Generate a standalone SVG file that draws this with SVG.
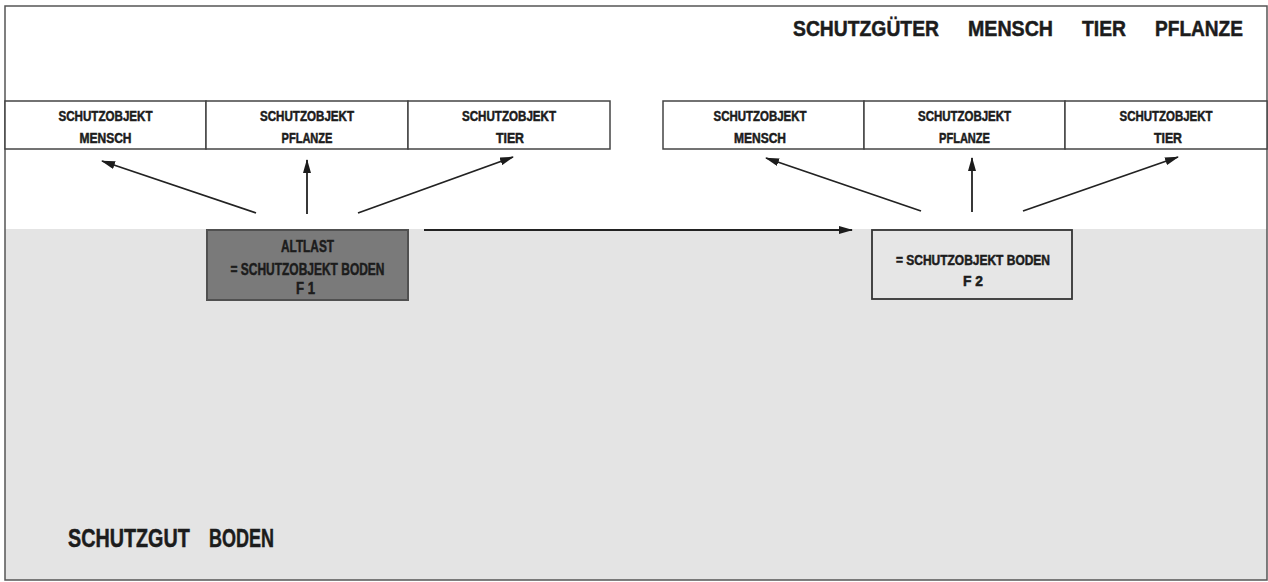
<svg xmlns="http://www.w3.org/2000/svg" width="1268" height="582" viewBox="0 0 1268 582">
<defs>
<style>
text{font-family:"Liberation Sans",Arial,sans-serif;font-weight:bold;fill:#1c1c1c;stroke:#1c1c1c;stroke-width:0.5}
.cell{fill:#fff;stroke:#444;stroke-width:1.5}
.t{font-size:14px;text-anchor:middle}
.b{font-size:16px;text-anchor:middle}
.conn{stroke:#222;stroke-width:1.8;fill:none;marker-end:url(#ah)}
</style>
<marker id="ah" viewBox="0 0 14 8" refX="13" refY="4" markerWidth="14" markerHeight="8" markerUnits="userSpaceOnUse" orient="auto">
<path d="M0,0 L14,4 L0,8 Z" fill="#1c1c1c"/>
</marker>
</defs>
<rect x="0" y="0" width="1268" height="582" fill="#fff"/>
<rect x="5" y="229" width="1262" height="351" fill="#e4e4e4"/>
<rect x="5" y="6" width="1262" height="574" fill="none" stroke="#555" stroke-width="1.5"/>
<g id="title">
<text x="793" y="36" font-size="22" textLength="146" lengthAdjust="spacingAndGlyphs">SCHUTZGÜTER</text>
<text x="968" y="36" font-size="22" textLength="85" lengthAdjust="spacingAndGlyphs">MENSCH</text>
<text x="1082" y="36" font-size="22" textLength="44" lengthAdjust="spacingAndGlyphs">TIER</text>
<text x="1155" y="36" font-size="22" textLength="88" lengthAdjust="spacingAndGlyphs">PFLANZE</text>
</g>
<g id="boden-label">
<text transform="translate(68,547) scale(0.79,1)" font-size="25">SCHUTZGUT</text>
<text transform="translate(209,547) scale(0.72,1)" font-size="25">BODEN</text>
</g>
<g id="l-mensch">
<rect class="cell" x="5" y="101" width="201" height="48"/>
<text class="t" x="105.5" y="121" textLength="94" lengthAdjust="spacingAndGlyphs">SCHUTZOBJEKT</text>
<text class="t" x="105.5" y="143" textLength="52" lengthAdjust="spacingAndGlyphs">MENSCH</text>
</g>
<g id="l-pflanze">
<rect class="cell" x="206" y="101" width="202" height="48"/>
<text class="t" x="307" y="121" textLength="94" lengthAdjust="spacingAndGlyphs">SCHUTZOBJEKT</text>
<text class="t" x="307" y="143" textLength="51" lengthAdjust="spacingAndGlyphs">PFLANZE</text>
</g>
<g id="l-tier">
<rect class="cell" x="408" y="101" width="202" height="48"/>
<text class="t" x="509" y="121" textLength="94" lengthAdjust="spacingAndGlyphs">SCHUTZOBJEKT</text>
<text class="t" x="510" y="143" textLength="28" lengthAdjust="spacingAndGlyphs">TIER</text>
</g>
<g id="r-mensch">
<rect class="cell" x="663" y="101" width="201" height="48"/>
<text class="t" x="760" y="121" textLength="93" lengthAdjust="spacingAndGlyphs">SCHUTZOBJEKT</text>
<text class="t" x="760" y="143" textLength="52" lengthAdjust="spacingAndGlyphs">MENSCH</text>
</g>
<g id="r-pflanze">
<rect class="cell" x="864" y="101" width="201" height="48"/>
<text class="t" x="964.5" y="121" textLength="93" lengthAdjust="spacingAndGlyphs">SCHUTZOBJEKT</text>
<text class="t" x="964.5" y="143" textLength="51" lengthAdjust="spacingAndGlyphs">PFLANZE</text>
</g>
<g id="r-tier">
<rect class="cell" x="1065" y="101" width="202" height="48"/>
<text class="t" x="1166" y="121" textLength="93" lengthAdjust="spacingAndGlyphs">SCHUTZOBJEKT</text>
<text class="t" x="1168" y="143" textLength="28" lengthAdjust="spacingAndGlyphs">TIER</text>
</g>
<g id="f1">
<rect x="207" y="230" width="201" height="70" fill="#7a7a7a" stroke="#505050" stroke-width="2"/>
<text class="b" x="307.5" y="252" textLength="53" lengthAdjust="spacingAndGlyphs">ALTLAST</text>
<text class="b" x="307.5" y="275" textLength="154" lengthAdjust="spacingAndGlyphs">= SCHUTZOBJEKT BODEN</text>
<text class="b" x="305.5" y="294" textLength="19" lengthAdjust="spacingAndGlyphs">F 1</text>
</g>
<g id="f2">
<rect x="872" y="230" width="200" height="69" fill="#e6e6e6" stroke="#333" stroke-width="1.8"/>
<text class="t" x="973" y="265" textLength="154" lengthAdjust="spacingAndGlyphs">= SCHUTZOBJEKT BODEN</text>
<text class="t" x="973" y="286" textLength="20" lengthAdjust="spacingAndGlyphs">F 2</text>
</g>
<g id="connectors">
<line class="conn" x1="256" y1="213" x2="102" y2="161"/>
<line class="conn" x1="307" y1="214" x2="307" y2="160"/>
<line class="conn" x1="358" y1="213" x2="513" y2="157"/>
<line class="conn" x1="921" y1="211" x2="766" y2="158"/>
<line class="conn" x1="972" y1="212" x2="972" y2="158"/>
<line class="conn" x1="1023" y1="211" x2="1178" y2="157"/>
<line class="conn" x1="424" y1="230" x2="852" y2="230"/>
</g>
</svg>
